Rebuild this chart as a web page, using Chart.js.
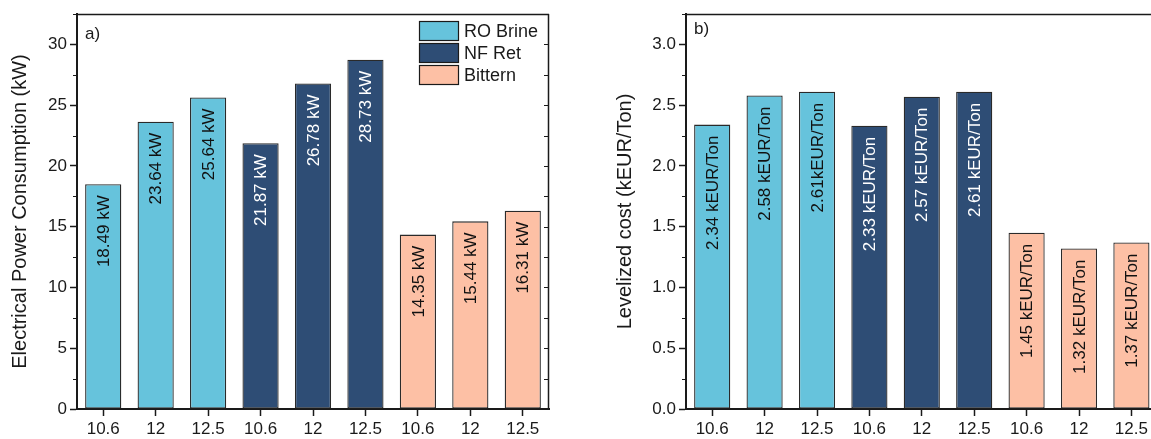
<!DOCTYPE html>
<html>
<head>
<meta charset="utf-8">
<script src="https://cdn.jsdelivr.net/npm/chart.js@4.4.1/dist/chart.umd.min.js"></script>
<style>
  html, body { margin: 0; padding: 0; background: #fff; overflow: hidden; }
  #wrap { position: relative; width: 1151px; height: 439px; overflow: hidden; }
  #powerChart { position: absolute; left: 0; top: 0; }
  #costChart { position: absolute; left: 590px; top: 0; }
</style>
</head>
<body>
<div id="wrap">
  <canvas id="powerChart" width="560" height="439"></canvas>
  <canvas id="costChart" width="600" height="439"></canvas>
</div>
<script>
// data
const categories = ['10.6', '12', '12.5', '10.6', '12', '12.5', '10.6', '12', '12.5'];
const groupNames = ['RO Brine', 'NF Ret', 'Bittern'];
const barGroup = [0, 0, 0, 1, 1, 1, 2, 2, 2];

const powerValues = [18.49, 23.64, 25.64, 21.87, 26.78, 28.73, 14.35, 15.44, 16.31];
const powerLabels = ['18.49 kW', '23.64 kW', '25.64 kW', '21.87 kW', '26.78 kW', '28.73 kW', '14.35 kW', '15.44 kW', '16.31 kW'];

const costValues = [2.34, 2.58, 2.61, 2.33, 2.57, 2.61, 1.45, 1.32, 1.37];
const costLabels = ['2.34 kEUR/Ton', '2.58 kEUR/Ton', '2.61kEUR/Ton', '2.33 kEUR/Ton', '2.57 kEUR/Ton', '2.61 kEUR/Ton', '1.45 kEUR/Ton', '1.32 kEUR/Ton', '1.37 kEUR/Ton'];

// styles
const groupFill = ['#66c3dc', '#2e4d75', '#fdc0a5'];
const groupText = ['#111111', '#ffffff', '#111111'];
const FONT = "'Liberation Sans', Arial, sans-serif";
const INK = '#1a1a1a';

// frame, minor ticks, value labels, legend and panel letter
const panelDecor = {
  id: 'panelDecor',
  afterDatasetsDraw(chart, args, opts) {
    const { ctx, chartArea: a } = chart;
    const y = chart.scales.y;
    ctx.save();

    // top and right frame
    ctx.strokeStyle = INK;
    ctx.lineWidth = 1.5;
    ctx.beginPath();
    ctx.moveTo(a.left, a.top + 0.5);
    ctx.lineTo(a.right, a.top + 0.5);
    ctx.moveTo(a.right - 0.5, a.top);
    ctx.lineTo(a.right - 0.5, a.bottom);
    ctx.stroke();

    // minor ticks on the left, inward ticks on the right
    ctx.lineWidth = 1.2;
    ctx.beginPath();
    const n = Math.floor(y.max / opts.minorStep + 1e-6);
    for (let k = 0; k <= n; k++) {
      const py = Math.round(y.getPixelForValue(k * opts.minorStep)) + 0.5;
      if (k % 2 === 1) {
        ctx.moveTo(a.left - 4, py);
        ctx.lineTo(a.left, py);
      }
      ctx.moveTo(a.right - 5, py);
      ctx.lineTo(a.right, py);
    }
    ctx.stroke();

    // value labels inside bars
    const meta = chart.getDatasetMeta(0);
    ctx.font = '17px ' + FONT;
    ctx.textAlign = 'right';
    ctx.textBaseline = 'middle';
    meta.data.forEach((bar, i) => {
      ctx.save();
      ctx.translate(bar.x, bar.y + 11);
      ctx.rotate(-Math.PI / 2);
      ctx.fillStyle = groupText[barGroup[i]];
      ctx.fillText(opts.labels[i], 0, 1);
      ctx.restore();
    });

    // panel letter
    ctx.fillStyle = INK;
    ctx.textAlign = 'left';
    ctx.textBaseline = 'middle';
    ctx.fillText(opts.letter, a.left + 8, a.top + opts.letterDy);

    // legend
    if (opts.legend) {
      ctx.font = '18px ' + FONT;
      groupNames.forEach((name, g) => {
        const bx = a.right - 130;
        const by = a.top + 7 + g * 22;
        ctx.fillStyle = groupFill[g];
        ctx.fillRect(bx, by, 40, 20);
        ctx.strokeStyle = INK;
        ctx.lineWidth = 1.2;
        ctx.strokeRect(bx + 0.5, by + 0.5, 39, 19);
        ctx.fillStyle = INK;
        ctx.fillText(name, bx + 45, by + 11);
      });
    }
    ctx.restore();
  }
};

function makeChart(id, values, labels, cfg) {
  return new Chart(document.getElementById(id), {
    type: 'bar',
    data: {
      labels: categories,
      datasets: [{
        data: values,
        backgroundColor: barGroup.map(g => groupFill[g]),
        borderColor: '#2a2a2a',
        borderWidth: 1.3,
        borderSkipped: false,
        barPercentage: 0.69,
        categoryPercentage: 1
      }]
    },
    options: {
      responsive: false,
      animation: false,
      devicePixelRatio: 1,
      layout: { padding: { left: 0, top: 14, right: cfg.padRight, bottom: 0 } },
      plugins: {
        legend: { display: false },
        tooltip: { enabled: false },
        panelDecor: { labels: labels, letter: cfg.letter, letterDy: cfg.letterDy, minorStep: cfg.minorStep, legend: cfg.legend }
      },
      scales: {
        x: {
          afterFit: s => { s.height = 30; },
          grid: { display: true, drawOnChartArea: false, offset: false, drawTicks: true, tickLength: 7, tickWidth: 1.5, tickColor: INK },
          border: { display: true, color: INK, width: 2 },
          ticks: { font: { family: FONT, size: 17 }, color: INK, padding: 3, maxRotation: 0, autoSkip: false }
        },
        y: {
          min: 0,
          max: cfg.max,
          afterFit: s => { s.width = cfg.axisWidth; },
          grid: { display: true, drawOnChartArea: false, drawTicks: true, tickLength: 7, tickWidth: 1.5, tickColor: INK },
          border: { display: true, color: INK, width: 2 },
          ticks: {
            stepSize: cfg.minorStep * 2,
            includeBounds: false,
            font: { family: FONT, size: 17 },
            color: INK,
            padding: 3,
            callback: v => cfg.decimals ? Number(v).toFixed(cfg.decimals) : String(v)
          },
          title: {
            display: true,
            text: cfg.title,
            font: { family: FONT, size: 20 },
            color: INK,
            padding: { top: cfg.titlePad, bottom: 0 }
          }
        }
      }
    },
    plugins: [panelDecor]
  });
}

makeChart('powerChart', powerValues, powerLabels, {
  max: 32.5, minorStep: 2.5, decimals: 0, axisWidth: 77, padRight: 11,
  title: 'Electrical Power Consumption (kW)', titlePad: 8,
  letter: 'a)', letterDy: 20, legend: true
});

makeChart('costChart', costValues, costLabels, {
  max: 3.25, minorStep: 0.25, decimals: 1, axisWidth: 96, padRight: 32.4,
  title: 'Levelized cost (kEUR/Ton)', titlePad: 23,
  letter: 'b)', letterDy: 15, legend: false
});
</script>
</body>
</html>
